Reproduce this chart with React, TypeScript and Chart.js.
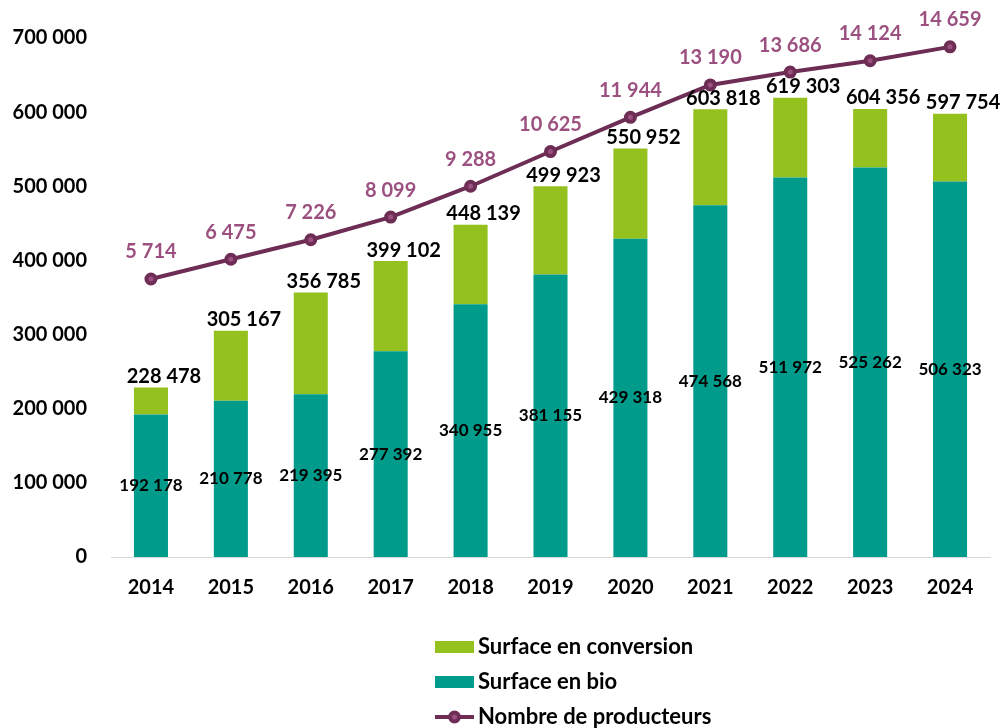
import React, { useEffect, useRef } from "react";
import { Chart, registerables } from "chart.js";

Chart.register(...registerables);

const years = ["2014", "2015", "2016", "2017", "2018", "2019", "2020", "2021", "2022", "2023", "2024"];
const totalSurface = [228478, 305167, 356785, 399102, 448139, 499923, 550952, 603818, 619303, 604356, 597754];
const bioSurface = [192178, 210778, 219395, 277392, 340955, 381155, 429318, 474568, 511972, 525262, 506323];
const conversionSurface = totalSurface.map((t, i) => t - bioSurface[i]);
const producers = [5714, 6475, 7226, 8099, 9288, 10625, 11944, 13190, 13686, 14124, 14659];
const yTicks = [0, 100000, 200000, 300000, 400000, 500000, 600000, 700000];

const GREEN = "#95C11F";
const TEAL = "#009B8A";
const LINE = "#6D2D55";
const MAUVE = "#9C5080";
const FONT = "Lato, 'Open Sans', sans-serif";

const fmt = (n: number) => String(n).replace(/\B(?=(\d{3})+(?!\d))/g, " ");

const labelsPlugin = {
  id: "customLabels",
  afterDatasetsDraw(chart: any) {
    const ctx = chart.ctx;
    ctx.save();
    ctx.textAlign = "center";
    ctx.textBaseline = "middle";
    // bio labels
    const bioMeta = chart.getDatasetMeta(0);
    ctx.font = `bold 17px ${FONT}`;
    ctx.fillStyle = "#000";
    bioMeta.data.forEach((bar: any, i: number) => {
      const p = bar.getProps(["x", "y", "base"], true);
      ctx.fillText(fmt(bioSurface[i]), p.x, (p.y + p.base) / 2);
    });
    // totals
    const convMeta = chart.getDatasetMeta(1);
    ctx.font = `bold 20px ${FONT}`;
    convMeta.data.forEach((bar: any, i: number) => {
      const p = bar.getProps(["x", "y"], true);
      ctx.fillText(fmt(totalSurface[i]), p.x + 13, p.y - 11);
    });
    // producers
    const lineMeta = chart.getDatasetMeta(2);
    ctx.fillStyle = MAUVE;
    lineMeta.data.forEach((pt: any, i: number) => {
      const p = pt.getProps(["x", "y"], true);
      ctx.fillText(fmt(producers[i]), p.x, p.y - 27);
    });
    ctx.restore();
  },
  afterDraw(chart: any) {
    const ctx = chart.ctx;
    ctx.save();
    const bx = 435;
    const bw = 39;
    const tx = 478;
    const rows = [
      { y: 647, label: "Surface en conversion", type: "box", color: GREEN },
      { y: 682, label: "Surface en bio", type: "box", color: TEAL },
      { y: 717, label: "Nombre de producteurs", type: "line", color: LINE },
    ];
    ctx.font = `bold 22px ${FONT}`;
    ctx.textBaseline = "middle";
    ctx.textAlign = "left";
    rows.forEach((r) => {
      if (r.type === "box") {
        ctx.fillStyle = r.color;
        ctx.fillRect(bx, r.y - 6, bw, 12);
      } else {
        ctx.strokeStyle = LINE;
        ctx.lineWidth = 4;
        ctx.beginPath();
        ctx.moveTo(bx, r.y);
        ctx.lineTo(bx + bw, r.y);
        ctx.stroke();
        ctx.beginPath();
        ctx.arc(bx + bw / 2, r.y, 4.5, 0, Math.PI * 2);
        ctx.fillStyle = MAUVE;
        ctx.fill();
        ctx.lineWidth = 4;
        ctx.strokeStyle = LINE;
        ctx.stroke();
      }
      ctx.fillStyle = "#000";
      ctx.fillText(r.label, tx, r.y);
    });
    ctx.restore();
  },
};

export default function App() {
  const ref = useRef<HTMLCanvasElement>(null);
  useEffect(() => {
    if (!ref.current) return;
    const chart = new Chart(ref.current, {
      type: "bar",
      data: {
        labels: years,
        datasets: [
          {
            type: "bar",
            label: "Surface en bio",
            data: bioSurface,
            backgroundColor: TEAL,
            stack: "s",
            order: 1,
            barPercentage: 0.426,
            categoryPercentage: 1,
            yAxisID: "y",
          },
          {
            type: "bar",
            label: "Surface en conversion",
            data: conversionSurface,
            backgroundColor: GREEN,
            stack: "s",
            order: 2,
            barPercentage: 0.426,
            categoryPercentage: 1,
            yAxisID: "y",
          },
          {
            type: "line",
            label: "Nombre de producteurs",
            data: producers,
            borderColor: LINE,
            borderWidth: 4,
            pointRadius: 4.5,
            pointBorderWidth: 4,
            pointBackgroundColor: MAUVE,
            pointBorderColor: LINE,
            order: 0,
            yAxisID: "y1",
            tension: 0,
          },
        ],
      },
      options: {
        animation: false,
        responsive: false,
        maintainAspectRatio: false,
        layout: { padding: { top: 38, left: 12, right: 15, bottom: 128 } },
        plugins: { legend: { display: false }, tooltip: { enabled: false } },
        scales: {
          x: {
            stacked: true,
            grid: { display: false, drawTicks: false },
            border: { display: true, color: "#D9D9D9", width: 1 },
            ticks: { color: "#000", font: { family: FONT, size: 20, weight: "bold" }, padding: 19 },
            afterFit: (axis: any) => {
              axis.height = 43;
            },
          },
          y: {
            stacked: true,
            min: 0,
            max: 700000,
            afterBuildTicks: (axis: any) => {
              axis.ticks = yTicks.map((v) => ({ value: v }));
            },
            grid: { display: false, drawTicks: false },
            border: { display: false },
            ticks: {
              color: "#000",
              font: { family: FONT, size: 20, weight: "bold" },
              padding: 24,
              callback: (v: any) => fmt(Number(v)),
            },
            afterFit: (axis: any) => {
              axis.width = 99;
            },
          },
          y1: {
            display: false,
            position: "right",
            min: -5000,
            max: 15000,
            grid: { display: false },
          },
        },
      },
      plugins: [labelsPlugin],
    });
    return () => chart.destroy();
  }, []);
  return (
    <div style={{ position: "absolute", left: 0, top: 0, width: 1005, height: 728, background: "#fff" }}>
      <canvas ref={ref} width={1005} height={728} style={{ width: 1005, height: 728 }} />
    </div>
  );
}
